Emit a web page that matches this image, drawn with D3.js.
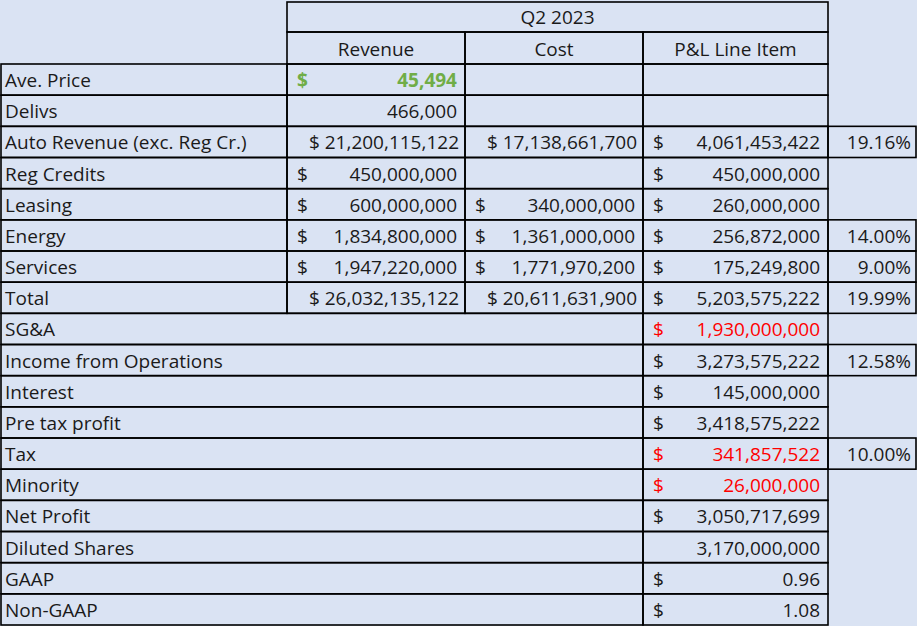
<!DOCTYPE html>
<html><head><meta charset="utf-8">
<script src="https://d3js.org/d3.v7.min.js"></script>
<style>body{margin:0;background:#dae3f3;}svg{display:block;font-family:"Open Sans",sans-serif;}</style>
</head><body><svg width="917" height="626"></svg>
<script>
var labels = ["Ave. Price","Delivs","Auto Revenue (exc. Reg Cr.)","Reg Credits","Leasing","Energy","Services","Total","SG&A","Income from Operations","Interest","Pre tax profit","Tax","Minority","Net Profit","Diluted Shares","GAAP","Non-GAAP"];
var revenue = ["45,494","466,000","21,200,115,122","450,000,000","600,000,000","1,834,800,000","1,947,220,000","26,032,135,122"];
var revenueDollar = [true,false,true,true,true,true,true,true];
var cost = ["","","17,138,661,700","","340,000,000","1,361,000,000","1,771,970,200","20,611,631,900"];
var pnl = ["","","4,061,453,422","450,000,000","260,000,000","256,872,000","175,249,800","5,203,575,222","1,930,000,000","3,273,575,222","145,000,000","3,418,575,222","341,857,522","26,000,000","3,050,717,699","3,170,000,000","0.96","1.08"];
var pnlDollar = [false,false,true,true,true,true,true,true,true,true,true,true,true,true,true,false,true,true];
var pnlRed = [8,12,13];
var pct = ["","","19.16%","","","14.00%","9.00%","19.99%","","12.58%","","","10.00%","","","","",""];
var headers = ["Revenue","Cost","P&L Line Item"];

var svg = d3.select("svg");
var x = d3.scaleOrdinal().domain(["label","rev","cost","pnl","pct","end"]).range([1,287,465,643,828,916]);
var y = d3.scaleBand().domain(d3.range(labels.length)).range([64,625]);
var rh = y.bandwidth();
var fs = 19, ink = "#1a1a1a";

function box(x0,y0,x1,y1){
  svg.append("rect").attr("x",x0).attr("y",y0).attr("width",x1-x0).attr("height",y1-y0)
    .attr("fill","none").attr("stroke","#000").attr("stroke-width",1.6);
}
function txt(t,xx,yy,anchor,color,bold){
  svg.append("text").attr("x",xx).attr("y",yy).attr("text-anchor",anchor)
    .attr("font-size",fs).attr("fill",color||ink).attr("font-weight",bold?"bold":null).text(t);
}
function money(val,dollar,x0,x1,yy,color,bold){
  if(!val) return;
  if(dollar){
    if(val.length > 13){ txt("$ " + val,x1-6,yy,"end",color,bold); return; }
    txt("$",x0+10,yy,"start",color,bold);
  }
  txt(val,x1-8,yy,"end",color,bold);
}

// header
box(x("rev"),2,x("pct"),32);
txt("Q2 2023",(x("rev")+x("pct"))/2,24,"middle");
headers.forEach(function(h,i){
  var k=["rev","cost","pnl"][i], n=["cost","pnl","pct"][i];
  box(x(k),32,x(n),64);
  txt(h,(x(k)+x(n))/2,56,"middle");
});

labels.forEach(function(l,i){
  var y0=y(i), y1=y0+rh, ty=y0+rh*0.74;
  if(i<8){
    box(x("label"),y0,x("rev"),y1);
    box(x("rev"),y0,x("cost"),y1);
    box(x("cost"),y0,x("pnl"),y1);
    money(revenue[i],revenueDollar[i],x("rev"),x("cost"),ty,i==0?"#70ad47":null,i==0);
    money(cost[i],true,x("cost"),x("pnl"),ty);
  } else {
    box(x("label"),y0,x("pnl"),y1);
  }
  box(x("pnl"),y0,x("pct"),y1);
  if(pct[i]){ box(x("pct"),y0,x("end"),y1); txt(pct[i],x("end")-5,ty,"end"); }
  txt(l,5,ty,"start");
  money(pnl[i],pnlDollar[i],x("pnl"),x("pct"),ty,pnlRed.indexOf(i)>=0?"#ff0000":null);
});
</script></body></html>
